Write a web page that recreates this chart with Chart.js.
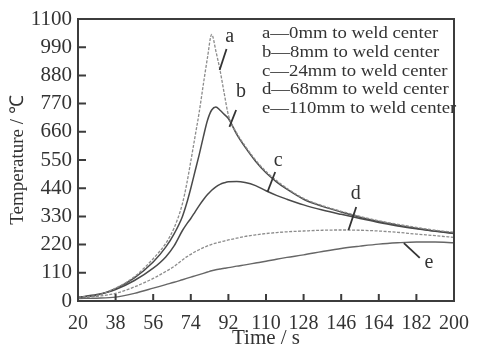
<!DOCTYPE html>
<html lang="en">
<head>
<meta charset="UTF-8">
<title>Temperature vs Time</title>
<script src="https://cdn.jsdelivr.net/npm/chart.js"></script>
<style>
  html, body { margin: 0; padding: 0; background: #fff; }
</style>
</head>
<body>
<canvas id="myChart" width="480" height="347"></canvas>
<script>
// sample times (s), shared by all five curves
const times = [20, 29, 38, 47, 56, 62, 66, 70, 72, 74, 76, 78, 80, 82, 84, 86, 88, 90, 92, 96, 100, 105, 110, 115, 120, 128, 137, 146, 155, 164, 173, 182, 191, 200];

// temperature (°C)
const tempA = [15, 22, 50, 95, 165, 225, 285, 380, 455, 545, 640, 735, 845, 950, 1040, 975, 900, 810, 725, 655, 605, 550, 505, 470, 440, 400, 372, 350, 330, 313, 299, 287, 276, 268];
const tempB = [15, 22, 48, 90, 152, 210, 262, 330, 380, 440, 505, 570, 640, 705, 745, 757, 744, 728, 712, 650, 600, 545, 500, 465, 436, 397, 369, 347, 327, 310, 296, 284, 273, 265];
const tempC = [15, 25, 45, 80, 128, 172, 215, 275, 300, 322, 347, 372, 395, 415, 432, 445, 455, 461, 465, 466, 462, 450, 430, 412, 397, 375, 355, 338, 322, 306, 293, 282, 272, 263];
const tempD = [12, 18, 30, 55, 88, 115, 135, 160, 172, 182, 192, 200, 208, 215, 221, 226, 230, 234, 238, 245, 252, 258, 263, 267, 270, 273, 276, 277, 276, 273, 268, 261, 255, 248];
const tempE = [10, 11, 15, 30, 50, 64, 73, 83, 88, 93, 98, 103, 108, 113, 118, 122, 125, 128, 130, 136, 141, 148, 155, 163, 170, 180, 193, 205, 214, 222, 227, 230, 230, 227];

const seriesNames = ['a', 'b', 'c', 'd', 'e'];
const legendLines = [
  'a\u20140mm to weld center',
  'b\u20148mm to weld center',
  'c\u201424mm to weld center',
  'd\u201468mm to weld center',
  'e\u2014110mm to weld center'
];
const xTicks = [20, 38, 56, 74, 92, 110, 128, 146, 164, 182, 200];
const yTicks = [0, 110, 220, 330, 440, 550, 660, 770, 880, 990, 1100];

const serif = "'Liberation Serif', 'Times New Roman', serif";

// letter callouts: short leader line (data units) and letter position
const callouts = [
  { name: 'a', from: [87.8, 901], to: [91.1, 983], at: [92.6, 1030] },
  { name: 'b', from: [92.5, 679], to: [95.7, 745], at: [98.0, 815] },
  { name: 'c', from: [110.7, 425], to: [114.4, 503], at: [115.8, 548] },
  { name: 'd', from: [149.5, 277], to: [153.2, 367], at: [153.0, 418] },
  { name: 'e', from: [176.0, 226], to: [183.6, 168], at: [188.0, 150] }
];

const toPoints = vals => vals.map((v, i) => ({ x: times[i], y: v }));

const decor = {
  id: 'decor',
  afterDatasetsDraw(chart) {
    const { ctx, chartArea: a, scales: { x, y } } = chart;
    ctx.save();
    ctx.strokeStyle = '#3c3c3c';
    ctx.lineWidth = 2;
    ctx.strokeRect(a.left, a.top, a.right - a.left, a.bottom - a.top);

    // inward ticks on left and bottom
    ctx.beginPath();
    xTicks.forEach(v => {
      const px = x.getPixelForValue(v);
      ctx.moveTo(px, a.bottom);
      ctx.lineTo(px, a.bottom - 7);
    });
    yTicks.forEach(v => {
      const py = y.getPixelForValue(v);
      ctx.moveTo(a.left, py);
      ctx.lineTo(a.left + 8, py);
    });
    ctx.stroke();

    // callouts
    ctx.lineWidth = 1.8;
    ctx.strokeStyle = '#333';
    ctx.fillStyle = '#333';
    ctx.font = '20px ' + serif;
    ctx.textAlign = 'center';
    ctx.textBaseline = 'middle';
    callouts.forEach(c => {
      ctx.beginPath();
      ctx.moveTo(x.getPixelForValue(c.from[0]), y.getPixelForValue(c.from[1]));
      ctx.lineTo(x.getPixelForValue(c.to[0]), y.getPixelForValue(c.to[1]));
      ctx.stroke();
      ctx.fillText(c.name, x.getPixelForValue(c.at[0]), y.getPixelForValue(c.at[1]));
    });

    // legend text, slightly stretched like the original print
    ctx.font = '16px ' + serif;
    ctx.textAlign = 'left';
    ctx.textBaseline = 'alphabetic';
    const sx = 1.17;
    legendLines.forEach((t, i) => {
      ctx.save();
      ctx.scale(sx, 1);
      ctx.fillText(t, (a.left + 184) / sx, a.top + 19 + i * 18.8);
      ctx.restore();
    });
    ctx.restore();
  }
};

const ctx = document.getElementById('myChart').getContext('2d');
const myChart = new Chart(ctx, {
  type: 'line',
  data: {
    datasets: [
      { label: seriesNames[0], data: toPoints(tempA), borderColor: '#8c8c8c', borderWidth: 1.3, borderDash: [3, 1.5] },
      { label: seriesNames[1], data: toPoints(tempB), borderColor: '#4a4a4a', borderWidth: 1.5 },
      { label: seriesNames[2], data: toPoints(tempC), borderColor: '#4a4a4a', borderWidth: 1.5 },
      { label: seriesNames[3], data: toPoints(tempD), borderColor: '#8c8c8c', borderWidth: 1.3, borderDash: [3, 1.5] },
      { label: seriesNames[4], data: toPoints(tempE), borderColor: '#666', borderWidth: 1.4 }
    ]
  },
  options: {
    responsive: false,
    animation: false,
    events: [],
    layout: { padding: { top: 19, right: 17, left: 0, bottom: 0 } },
    elements: {
      point: { radius: 0 },
      line: { cubicInterpolationMode: 'monotone', fill: false }
    },
    plugins: { legend: { display: false }, tooltip: { enabled: false } },
    scales: {
      x: {
        type: 'linear',
        min: 20, max: 200,
        afterFit: s => { s.height = 46; },
        afterBuildTicks: s => { s.ticks = xTicks.map(v => ({ value: v })); },
        grid: { display: false, drawTicks: false },
        border: { display: false },
        ticks: { padding: 11, color: '#333', font: { family: serif, size: 20 }, maxRotation: 0, callback: v => String(v) },
        title: { display: true, text: 'Time / s', color: '#333', font: { family: serif, size: 21, lineHeight: 0.85 }, padding: 0 }
      },
      y: {
        min: 0, max: 1100,
        afterFit: s => { s.width = 78; },
        afterBuildTicks: s => { s.ticks = yTicks.map(v => ({ value: v })); },
        grid: { display: false, drawTicks: false },
        border: { display: false },
        ticks: { padding: 6, color: '#333', font: { family: serif, size: 21 }, callback: v => String(v) },
        title: { display: true, text: 'Temperature / \u2103', color: '#333', font: { family: serif, size: 19, lineHeight: 1 }, padding: { top: 9, bottom: 0 } }
      }
    }
  },
  plugins: [decor]
});
</script>
</body>
</html>
